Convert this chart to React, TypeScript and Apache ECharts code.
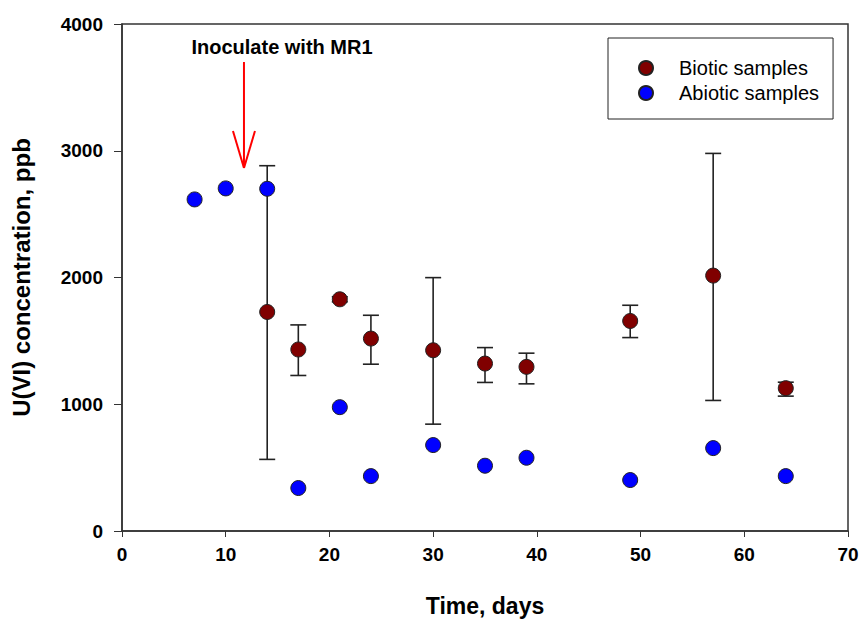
import React, { useEffect, useRef } from "react";
import * as echarts from "echarts";

const days = [7, 10, 14, 17, 21, 24, 30, 35, 39, 49, 57, 64];
const bioticDays = [14, 17, 21, 24, 30, 35, 39, 49, 57, 64];
const bioticMean = [1728, 1432, 1828, 1518, 1426, 1321, 1295, 1657, 2015, 1127];
const bioticLow = [565, 1227, 1808, 1316, 843, 1172, 1161, 1526, 1030, 1064];
const bioticHigh = [2882, 1626, 1848, 1702, 1999, 1447, 1403, 1781, 2979, 1174];
const abioticValues = [2616, 2703, 2700, 339, 977, 433, 678, 515, 578, 402, 654, 433];
const annotationText = "Inoculate with MR1";
const annotation = { textX: 15.43, textY: 3819, arrowX: 11.76, arrowTop: 3700, arrowTip: 2864 };

const FONT = "'Liberation Sans', Arial, sans-serif";

export default function App() {
  const ref = useRef<HTMLDivElement>(null);
  useEffect(() => {
    if (!ref.current) return;
    const chart = echarts.init(ref.current, undefined, { renderer: "svg" });
    const errData = bioticDays.map((d, i) => [d, bioticLow[i], bioticHigh[i]]);
    chart.setOption({
      animation: false,
      backgroundColor: "#ffffff",
      grid: {
        left: 122,
        right: 15,
        top: 24,
        bottom: 89,
        containLabel: false,
        outerBoundsMode: "none",
        show: true,
        borderColor: "#333",
        borderWidth: 1.5,
        backgroundColor: "transparent",
      },
      legend: {
        orient: "vertical",
        left: 608,
        top: 38,
        padding: [20, 14, 16, 30],
        itemGap: 5,
        itemWidth: 56,
        itemHeight: 14,
        borderColor: "#222",
        borderWidth: 1,
        textStyle: { fontFamily: FONT, fontSize: 20, color: "#000" },
        data: [
          { name: "Biotic samples", icon: "circle" },
          { name: "Abiotic samples", icon: "circle" },
        ],
      },
      xAxis: {
        type: "value",
        min: 0,
        max: 70,
        interval: 10,
        name: "Time, days",
        nameLocation: "middle",
        nameGap: 63,
        nameTextStyle: { fontFamily: FONT, fontSize: 23, fontWeight: "bold", color: "#000" },
        axisLine: { show: true, onZero: false, lineStyle: { color: "#333", width: 1.5 } },
        axisTick: { show: true, length: 6, lineStyle: { color: "#333" } },
        axisLabel: { fontFamily: FONT, fontSize: 19, fontWeight: "bold", color: "#000", margin: 14 },
        splitLine: { show: false },
      },
      yAxis: {
        type: "value",
        min: 0,
        max: 4000,
        interval: 1000,
        name: "U(VI) concentration, ppb",
        nameLocation: "middle",
        nameGap: 89,
        nameTextStyle: { fontFamily: FONT, fontSize: 24, fontWeight: "bold", color: "#000" },
        axisLine: { show: true, lineStyle: { color: "#333", width: 1.5 } },
        axisTick: { show: true, length: 8, lineStyle: { color: "#333" } },
        axisLabel: {
          fontFamily: FONT,
          fontSize: 19,
          fontWeight: "bold",
          color: "#000",
          margin: 19,
          formatter: (v: number) => String(v),
        },
        splitLine: { show: false },
      },
      series: [
        {
          type: "custom",
          name: "errorbars",
          z: 1,
          silent: true,
          data: errData,
          renderItem: (params: any, api: any) => {
            const x = api.value(0);
            const top = api.coord([x, api.value(2)]);
            const bot = api.coord([x, api.value(1)]);
            const hw = 8;
            const style = { stroke: "#222", lineWidth: 1.6 };
            return {
              type: "group",
              children: [
                { type: "line", shape: { x1: top[0], y1: top[1], x2: bot[0], y2: bot[1] }, style },
                { type: "line", shape: { x1: top[0] - hw, y1: top[1], x2: top[0] + hw, y2: top[1] }, style },
                { type: "line", shape: { x1: bot[0] - hw, y1: bot[1], x2: bot[0] + hw, y2: bot[1] }, style },
              ],
            };
          },
        },
        {
          type: "scatter",
          name: "Biotic samples",
          z: 3,
          symbol: "circle",
          symbolSize: 15,
          itemStyle: { color: "#800000", borderColor: "#222", borderWidth: 1, opacity: 1 },
          data: bioticDays.map((d, i) => [d, bioticMean[i]]),
        },
        {
          type: "scatter",
          name: "Abiotic samples",
          z: 3,
          symbol: "circle",
          symbolSize: 15,
          itemStyle: { color: "#0000ff", borderColor: "#222", borderWidth: 1, opacity: 1 },
          data: days.map((d, i) => [d, abioticValues[i]]),
        },
        {
          type: "custom",
          name: "annotation",
          z: 4,
          silent: true,
          data: [[annotation.arrowX, annotation.arrowTop, annotation.arrowTip, annotation.textX, annotation.textY]],
          renderItem: (params: any, api: any) => {
            const top = api.coord([api.value(0), api.value(1)]);
            const tip = api.coord([api.value(0), api.value(2)]);
            const t = api.coord([api.value(3), api.value(4)]);
            const style = { stroke: "#ff0000", lineWidth: 2 };
            return {
              type: "group",
              children: [
                { type: "line", shape: { x1: top[0], y1: top[1], x2: tip[0], y2: tip[1] }, style },
                { type: "line", shape: { x1: tip[0] - 11, y1: tip[1] - 37, x2: tip[0], y2: tip[1] }, style },
                { type: "line", shape: { x1: tip[0] + 11, y1: tip[1] - 37, x2: tip[0], y2: tip[1] }, style },
                {
                  type: "text",
                  x: t[0],
                  y: t[1],
                  style: {
                    text: annotationText,
                    fontFamily: FONT,
                    fontSize: 20,
                    fontWeight: "bold",
                    fill: "#000",
                    align: "center",
                    verticalAlign: "middle",
                  },
                },
              ],
            };
          },
        },
      ],
    });
    return () => chart.dispose();
  }, []);
  return <div ref={ref} style={{ position: "absolute", left: 0, top: 0, width: 863, height: 620 }} />;
}
